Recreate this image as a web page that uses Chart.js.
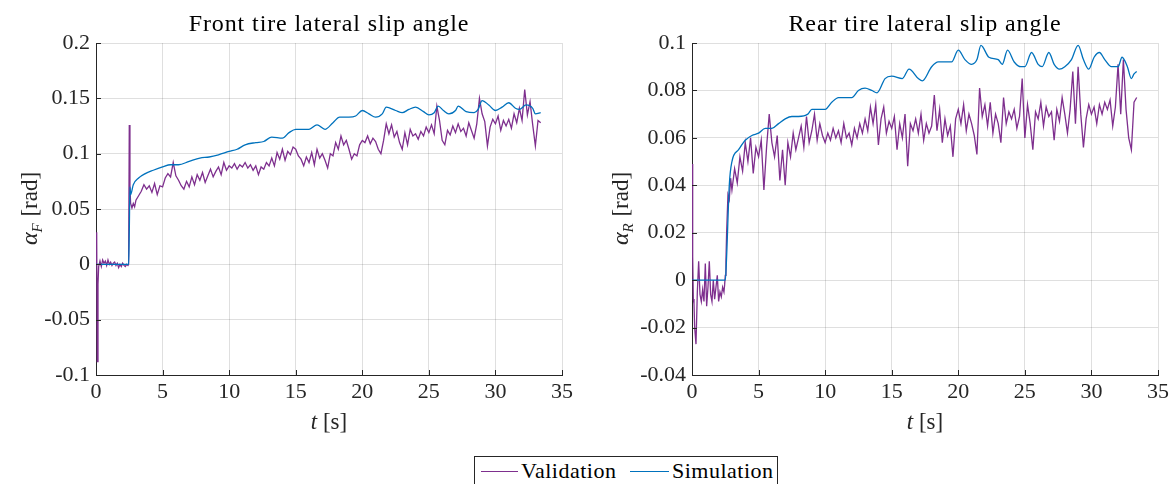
<!DOCTYPE html>
<html>
<head>
<meta charset="utf-8">
<script src="https://cdn.jsdelivr.net/npm/chart.js@4.4.1/dist/chart.umd.min.js"></script>
<style>
  html, body { margin: 0; padding: 0; background: #ffffff; }
  body { width: 1175px; height: 484px; position: relative; overflow: hidden; font-family: "Liberation Serif", serif; }
  #cF { position: absolute; left: 0; top: 0; }
  #cR { position: absolute; left: 590px; top: 0; }
  #legend { position: absolute; left: 474px; top: 456px; width: 304px; height: 40px; border: 1px solid #262626; background: #fff; box-sizing: border-box; }
  .lline { position: absolute; height: 0; top: 14px; border-top-width: 1.5px; border-top-style: solid; }
  .ltext { position: absolute; top: 0px; font-size: 22px; letter-spacing: 0.5px; line-height: 28px; color: #000; white-space: nowrap; }
</style>
</head>
<body>
<canvas id="cF" width="590" height="440"></canvas>
<canvas id="cR" width="585" height="440"></canvas>
<div id="legend">
  <div class="lline" style="left:6px;width:37px;border-top-color:#7E2F8E"></div>
  <div class="ltext" style="left:46px">Validation</div>
  <div class="lline" style="left:155px;width:39px;border-top-color:#0072BD"></div>
  <div class="ltext" style="left:197px">Simulation</div>
</div>
<script>
// ---------------- DATA ----------------
const titleF = 'Front tire lateral slip angle';
const titleR = 'Rear tire lateral slip angle';
const seriesNames = ['Validation', 'Simulation'];

const xTicks = [0, 5, 10, 15, 20, 25, 30, 35];
const yTicksF = ['-0.1', '-0.05', '0', '0.05', '0.1', '0.15', '0.2'];
const yTicksR = ['-0.04', '-0.02', '0', '0.02', '0.04', '0.06', '0.08', '0.1'];

// time samples of the measured (validation) signals [s]
const tVal = [0,0.05,0.1,0.15,0.2,0.3,0.4,0.5,0.6,0.7,0.8,0.9,1.0,1.1,1.2,1.3,1.4,1.5,1.6,1.7,1.8,1.9,2.0,2.1,2.2,2.3,2.4,2.45,2.5,2.55,2.6,2.7,2.8,2.9,3.0,
3.2,3.4,3.6,3.8,4,
4.2,4.4,4.6,4.8,5,
5.2,5.4,5.6,5.8,6,
6.2,6.4,6.6,6.8,7,
7.2,7.4,7.6,7.8,8,
8.2,8.4,8.6,8.8,9,
9.2,9.4,9.6,9.8,10,
10.2,10.4,10.6,10.8,11,
11.2,11.4,11.6,11.8,12,
12.2,12.4,12.6,12.8,13,
13.2,13.4,13.6,13.8,14,
14.2,14.4,14.6,14.8,15,
15.2,15.4,15.6,15.8,16,
16.2,16.4,16.6,16.8,17,
17.2,17.4,17.6,17.8,18,
18.2,18.4,18.6,18.8,19,
19.2,19.4,19.6,19.8,20,
20.2,20.4,20.6,20.8,21,
21.2,21.4,21.6,21.8,22,
22.2,22.4,22.6,22.8,23,
23.2,23.4,23.6,23.8,24,
24.2,24.4,24.6,24.8,25,
25.2,25.4,25.6,25.8,26,
26.2,26.4,26.6,26.8,27,
27.2,27.4,27.6,27.8,28,
28.2,28.4,28.6,28.8,29,
29.2,29.4,29.6,29.8,30,
30.2,30.4,30.6,30.8,31,
31.2,31.4,31.6,31.8,32,
32.2,32.4,32.6,32.8,33,
33.2,33.4];

// Front tire, validation [rad]
const valF = [0,0.029,-0.088,-0.018,-0.002,
0.003,-0.002,0.004,0.001,0.003,-0.001,0.004,0.000,0.002,-0.001,0.001,0.002,-0.001,0.001,-0.003,0.000,-0.002,0.001,-0.001,-0.002,0.000,-0.001,
0.0,0.126,0.07,0.055,0.051,0.055,0.052,0.058,
0.062,0.066,0.072,0.068,0.071,
0.065,0.073,0.063,0.071,0.070,
0.078,0.082,0.079,0.092,0.080,
0.076,0.071,0.068,0.075,0.070,
0.079,0.072,0.081,0.076,0.083,
0.074,0.080,0.086,0.079,0.084,
0.088,0.081,0.092,0.085,0.089,
0.087,0.091,0.086,0.090,0.088,
0.092,0.087,0.090,0.085,0.089,
0.081,0.088,0.086,0.092,0.089,
0.096,0.089,0.101,0.095,0.104,
0.094,0.102,0.099,0.106,0.104,
0.098,0.095,0.089,0.097,0.092,
0.101,0.090,0.104,0.096,0.100,
0.094,0.087,0.100,0.098,0.110,
0.104,0.116,0.108,0.112,0.104,
0.095,0.100,0.098,0.108,0.112,
0.110,0.116,0.109,0.114,0.111,
0.104,0.100,0.112,0.127,0.118,
0.126,0.115,0.120,0.110,0.104,
0.119,0.108,0.122,0.116,0.118,
0.113,0.120,0.116,0.124,0.119,
0.126,0.118,0.143,0.130,0.112,
0.108,0.121,0.117,0.125,0.119,
0.127,0.120,0.123,0.116,0.128,
0.121,0.114,0.127,0.150,0.136,
0.129,0.107,0.124,0.131,0.127,
0.134,0.121,0.130,0.125,0.131,
0.123,0.136,0.128,0.141,0.130,
0.158,0.135,0.147,0.126,0.107,
0.130,0.128];

// Rear tire, validation [rad]
const valR = [0.049,0.01,-0.008,-0.01,-0.02,
-0.027,-0.005,0.008,-0.006,-0.009,-0.004,-0.009,0.007,-0.011,-0.003,0.008,-0.006,-0.009,0.0,-0.008,-0.003,0.002,-0.009,-0.005,-0.007,-0.003,-0.005,
-0.002,0.002,0.008,0.02,0.036,0.034,0.043,0.038,
0.047,0.041,0.052,0.046,0.058,
0.050,0.060,0.045,0.056,0.052,
0.059,0.038,0.056,0.070,0.058,
0.052,0.061,0.042,0.055,0.040,
0.058,0.052,0.062,0.055,0.060,
0.065,0.056,0.069,0.058,0.063,
0.070,0.059,0.066,0.061,0.058,
0.062,0.059,0.064,0.060,0.063,
0.058,0.066,0.060,0.062,0.057,
0.064,0.060,0.066,0.062,0.068,
0.063,0.073,0.066,0.074,0.057,
0.068,0.073,0.062,0.067,0.064,
0.069,0.055,0.066,0.060,0.070,
0.048,0.066,0.063,0.068,0.062,
0.070,0.059,0.066,0.062,0.065,
0.078,0.063,0.072,0.058,0.068,
0.061,0.065,0.052,0.068,0.072,
0.066,0.074,0.063,0.070,0.066,
0.061,0.053,0.081,0.069,0.074,
0.065,0.075,0.062,0.070,0.066,
0.058,0.077,0.066,0.071,0.068,
0.072,0.064,0.069,0.085,0.060,
0.074,0.066,0.055,0.071,0.068,
0.075,0.065,0.073,0.069,0.071,
0.059,0.072,0.067,0.077,0.070,
0.062,0.072,0.088,0.066,0.090,
0.070,0.056,0.068,0.074,0.070,
0.073,0.066,0.074,0.070,0.075,
0.072,0.076,0.065,0.073,0.091,
0.070,0.093,0.072,0.060,0.055,
0.075,0.077];

// Front tire, simulation
const tSimF = [0,2.45,2.5,2.55,2.6,2.8,3.2,3.7,4.3,5,5.6,6.2,7,7.8,8.5,9.2,10,10.6,11.2,12,12.6,13.2,14,14.5,15,16,16.6,17.2,17.8,18.3,19,19.5,20,20.5,21,21.5,21.8,22.5,23,23.5,24,24.6,25,25.4,25.7,26.1,26.5,27,27.2,27.8,28.4,28.7,29,29.5,30,30.5,31,31.5,31.8,32.3,32.8,33,33.4];
const simF = [0,0,0.03,0.07,0.063,0.072,0.078,0.082,0.085,0.088,0.090,0.090,0.093,0.096,0.097,0.099,0.102,0.104,0.108,0.110,0.111,0.115,0.114,0.119,0.122,0.122,0.126,0.122,0.128,0.133,0.133,0.134,0.139,0.136,0.133,0.136,0.142,0.139,0.137,0.140,0.142,0.138,0.135,0.137,0.143,0.139,0.136,0.139,0.143,0.138,0.137,0.140,0.148,0.144,0.139,0.142,0.146,0.141,0.140,0.144,0.141,0.136,0.137];

// Rear tire, simulation
const tSimR = [0,2.5,2.6,2.8,3.0,3.5,4,4.5,5,5.5,6,6.5,7,7.5,8,8.7,9,10,10.5,11,12,12.5,13,13.5,13.9,14.5,15,15.8,16.3,17,17.3,18,18.5,19.5,20,20.5,21,21.4,21.7,22.3,23,23.3,23.7,24.2,24.7,25,25.5,26,26.3,26.8,27.2,27.6,28,28.5,29,29.4,29.8,30.2,30.6,31,31.5,32,32.3,32.7,33,33.2,33.4];
const simR = [0,0,0.01,0.04,0.05,0.055,0.059,0.061,0.062,0.064,0.064,0.066,0.068,0.069,0.069,0.070,0.072,0.072,0.075,0.077,0.077,0.080,0.081,0.080,0.079,0.085,0.086,0.085,0.089,0.085,0.084,0.090,0.092,0.092,0.097,0.093,0.091,0.093,0.099,0.094,0.093,0.091,0.097,0.092,0.090,0.090,0.096,0.091,0.090,0.096,0.091,0.089,0.090,0.093,0.099,0.093,0.089,0.094,0.096,0.093,0.090,0.090,0.094,0.090,0.085,0.087,0.088];

// ---------------- STYLE ----------------
const COL_VAL = '#7E2F8E';
const COL_SIM = '#0072BD';
const AXIS_COL = '#262626';
const GRID_COL = 'rgba(38,38,38,0.15)';
const SERIF = '"Liberation Serif", "Times New Roman", serif';

function pairs(ts, ys) { return ys.map((y, i) => ({ x: ts[i], y: y })); }

const labelsPlugin = {
  id: 'mathLabels',
  afterDraw(chart, args, opts) {
    const ctx = chart.ctx;
    const xs = chart.scales.x, ys = chart.scales.y;
    const a = chart.chartArea;
    ctx.save();
    // inward tick marks
    ctx.strokeStyle = AXIS_COL;
    ctx.lineWidth = 1;
    ctx.beginPath();
    xs.ticks.forEach(t => {
      const px = Math.round(xs.getPixelForValue(t.value)) + 0.5;
      ctx.moveTo(px, a.bottom); ctx.lineTo(px, a.bottom - 5);
    });
    ys.ticks.forEach(t => {
      const py = Math.round(ys.getPixelForValue(t.value)) + 0.5;
      ctx.moveTo(a.left, py); ctx.lineTo(a.left + 5, py);
    });
    ctx.stroke();

    const cx = (a.left + a.right) / 2;

    // title
    ctx.fillStyle = '#000';
    ctx.textBaseline = 'alphabetic';
    ctx.textAlign = 'center';
    ctx.font = '24px ' + SERIF;
    if ('letterSpacing' in ctx) ctx.letterSpacing = '0.9px';
    ctx.fillText(opts.title, cx, 31);
    if ('letterSpacing' in ctx) ctx.letterSpacing = '0px';
    ctx.textAlign = 'left';

    ctx.fillStyle = '#262626';
    // x title: t [s]
    const fIt = 'italic 23px ' + SERIF, fUp = '23px ' + SERIF;
    ctx.font = fIt; const wT = ctx.measureText('t').width;
    ctx.font = fUp; const wS = ctx.measureText(' [s]').width;
    let x0 = cx - (wT + wS) / 2;
    const by = 429;
    ctx.font = fIt; ctx.fillText('t', x0, by);
    ctx.font = fUp; ctx.fillText(' [s]', x0 + wT, by);

    // y title: alpha_sub [rad]
    const sub = opts.sub;
    const fA = 'italic 24px ' + SERIF, fSub = 'italic 15px ' + SERIF;
    ctx.font = fA; const wA = ctx.measureText('α').width;
    ctx.font = fSub; const wSub = ctx.measureText(sub).width;
    ctx.font = fUp; const wR = ctx.measureText(' [rad]').width;
    const tot = wA + wSub + wR;
    ctx.translate(opts.yx, (a.top + a.bottom) / 2);
    ctx.rotate(-Math.PI / 2);
    let s = -tot / 2;
    ctx.font = fA; ctx.fillText('α', s, 0);
    ctx.font = fSub; ctx.fillText(sub, s + wA, 5);
    ctx.font = fUp; ctx.fillText(' [rad]', s + wA + wSub + 1, 0);
    ctx.restore();
  }
};

function makeChart(id, title, tv, vv, ts, sv, yMin, yMax, yStep, yLabels, yWidth, padRight, sub, yTitleX) {
  return new Chart(document.getElementById(id), {
    type: 'line',
    data: {
      datasets: [
        { label: seriesNames[0], data: pairs(tv, vv), borderColor: COL_VAL, borderWidth: 1.3, pointRadius: 0, tension: 0, order: 2 },
        { label: seriesNames[1], data: pairs(ts, sv), borderColor: COL_SIM, borderWidth: 1.3, pointRadius: 0, cubicInterpolationMode: 'monotone', order: 1 }
      ]
    },
    options: {
      responsive: false,
      devicePixelRatio: 1,
      animation: false,
      layout: { padding: { left: 0, right: padRight, top: 43, bottom: 0 } },
      plugins: {
        legend: { display: false },
        tooltip: { enabled: false },
        title: { display: false },
        mathLabels: { sub: sub, yx: yTitleX, title: title }
      },
      scales: {
        x: {
          type: 'linear', min: 0, max: 35,
          afterBuildTicks: (sc) => { sc.ticks = xTicks.map(v => ({ value: v })); },
          ticks: { callback: (v) => String(v), color: '#262626', font: { family: SERIF, size: 22 }, padding: 4, maxRotation: 0, autoSkip: false },
          grid: { color: GRID_COL, drawTicks: false, lineWidth: 1 },
          border: { color: AXIS_COL, width: 1 },
          afterFit: (sc) => { sc.height = 65; sc.paddingLeft = 0; sc.paddingRight = 0; }
        },
        y: {
          type: 'linear', min: yMin, max: yMax,
          afterBuildTicks: (sc) => { sc.ticks = yLabels.map((l, i) => ({ value: yMin + i * yStep })); },
          ticks: { callback: (v, i) => yLabels[i], color: '#262626', font: { family: SERIF, size: 22 }, padding: 6, autoSkip: false },
          grid: { color: GRID_COL, drawTicks: false, lineWidth: 1 },
          border: { color: AXIS_COL, width: 1 },
          afterFit: (sc) => { sc.width = yWidth; sc.paddingTop = 0; sc.paddingBottom = 0; }
        }
      }
    },
    plugins: [labelsPlugin]
  });
}

makeChart('cF', titleF, tVal, valF, tSimF, simF, -0.1, 0.2, 0.05, yTicksF, 96, 28, 'F', 37);
makeChart('cR', titleR, tVal, valR, tSimR, simR, -0.04, 0.1, 0.02, yTicksR, 102, 17, 'R', 38);
</script>
</body>
</html>
